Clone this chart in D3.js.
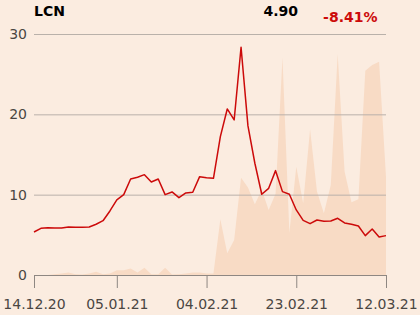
<!DOCTYPE html>
<html>
<head>
<meta charset="utf-8">
<script src="https://cdn.jsdelivr.net/npm/d3@7"></script>
<style>
  html, body { margin: 0; padding: 0; background: #fbece0; }
  svg { display: block; font-family: "DejaVu Sans", sans-serif; }
</style>
</head>
<body>
<svg id="chart"></svg>
<script>
const WIDTH = 420;
const HEIGHT = 315;

// closing prices, one per session
const prices = [
  5.35, 5.81, 5.89, 5.85, 5.85, 5.98, 5.95, 5.93, 5.98, 6.32,
  6.76, 7.97, 9.34, 10.0, 11.95, 12.16, 12.49, 11.58, 11.95, 10.0,
  10.34, 9.63, 10.21, 10.3, 12.24, 12.1, 12.04, 17.22, 20.67, 19.3,
  28.35, 18.56, 13.91, 10.05, 10.79, 12.99, 10.38, 10.05, 8.1, 6.8,
  6.39, 6.85, 6.68, 6.72, 7.06, 6.48, 6.31, 6.1, 4.9, 5.73,
  4.73, 4.9
];

// traded volume, in chart units (same height scale as price)
const volumes = [
  0, 0, 0, 0.1, 0.2, 0.3, 0.1, 0.05, 0.2, 0.4,
  0.1, 0.2, 0.6, 0.6, 0.8, 0.3, 0.9, 0.1, 0.1, 0.9,
  0.05, 0.1, 0.2, 0.3, 0.3, 0.2, 0.2, 6.95, 2.7, 4.36,
  12.1, 10.9, 8.8, 10.6, 8.1, 10.1, 27.1, 5.27, 13.49, 8.92,
  18.14, 10.38, 7.68, 11.2, 27.52, 12.87, 9.05, 9.43, 25.44, 26.15,
  26.56, 12.24
];

const tickIndex = [0, 12, 25, 38, 51];
const tickLabels = ["14.12.20", "05.01.21", "04.02.21", "23.02.21", "12.03.21"];
const yTicks = [0, 10, 20, 30];

const svg = d3.select("#chart")
  .attr("width", WIDTH)
  .attr("height", HEIGHT);

const x = d3.scaleLinear().domain([0, prices.length - 1]).range([34, 386]);
const y = d3.scaleLinear().domain([0, 30]).range([275, 34]);
const yVol = d3.scaleLinear().domain([0, 30]).range([275, 34]);

// volume area
svg.append("path")
  .datum(volumes)
  .attr("fill", "#f8dbc5")
  .attr("d", d3.area()
    .x((d, i) => x(i))
    .y0(yVol(0))
    .y1(d => yVol(d)));

// gridlines + y labels
const yAxis = svg.append("g")
  .attr("transform", "translate(34,0)")
  .call(d3.axisLeft(y).tickValues(yTicks).tickSize(-352).tickPadding(7).tickFormat(d3.format("d")));
yAxis.select(".domain").remove();
yAxis.selectAll(".tick line").attr("stroke", "#b9b1aa");
yAxis.selectAll(".tick text")
  .attr("fill", "#4a4643")
  .style("font-size", "14px")
  .style("font-family", "DejaVu Sans");

// x axis
const xAxis = svg.append("g")
  .attr("transform", "translate(0,275)")
  .call(d3.axisBottom(x)
    .tickValues(tickIndex)
    .tickSize(13)
    .tickSizeOuter(0)
    .tickPadding(11)
    .tickFormat((d, i) => tickLabels[i]));
xAxis.select(".domain").attr("stroke", "#8e8782");
xAxis.selectAll(".tick line").attr("stroke", "#8e8782");
xAxis.selectAll(".tick text")
  .attr("fill", "#4a4643")
  .style("font-size", "14px")
  .style("font-family", "DejaVu Sans");

// price line
svg.append("path")
  .datum(prices)
  .attr("fill", "none")
  .attr("stroke", "#cc0a0a")
  .attr("stroke-width", 1.5)
  .attr("stroke-linejoin", "round")
  .attr("d", d3.line().x((d, i) => x(i)).y(d => y(d)));

// header
const last = prices[prices.length - 1];
const change = (last / prices[0] - 1) * 100;

svg.append("text")
  .attr("x", 34).attr("y", 15.5)
  .style("font-size", "14px").style("font-weight", "bold")
  .attr("fill", "#000")
  .text("LCN");

svg.append("text")
  .attr("x", 298).attr("y", 15.5)
  .attr("text-anchor", "end")
  .style("font-size", "14px").style("font-weight", "bold")
  .attr("fill", "#000")
  .text(last.toFixed(2));

svg.append("text")
  .attr("x", 377.5).attr("y", 21.5)
  .attr("text-anchor", "end")
  .style("font-size", "14px").style("font-weight", "bold")
  .attr("fill", "#cc0a0a")
  .text(change.toFixed(2) + "%");
</script>
</body>
</html>
